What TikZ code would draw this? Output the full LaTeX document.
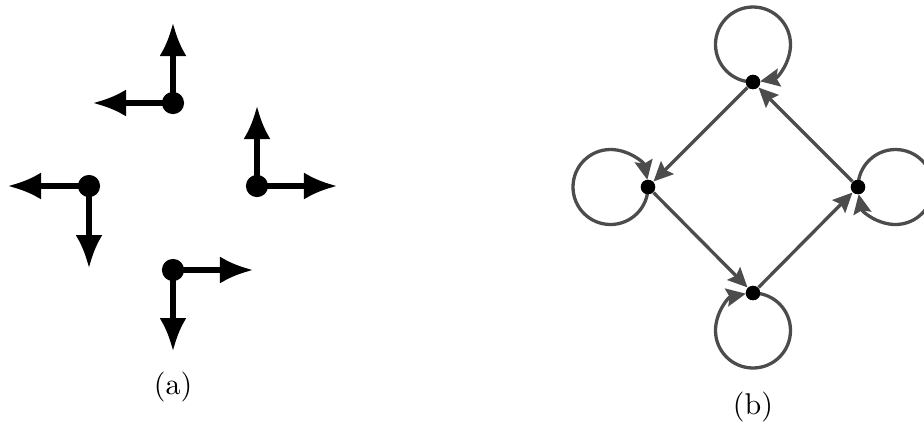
\documentclass[tikz,border=0pt]{standalone}
\usetikzlibrary{arrows.meta}
\begin{document}
\begin{tikzpicture}[x=0.3333pt,y=-0.3333pt,
  bigdot/.style={circle,fill=black,inner sep=0pt,minimum size=7.4pt},
  smalldot/.style={circle,fill=black,inner sep=0pt,minimum size=4.8pt},
  blackarrow/.style={line width=1.7pt,-{Latex[length=11pt,width=9pt]}},
  grayarrow/.style={draw=black!70,line width=1.1pt,-{Stealth[length=6.5pt,width=6pt,inset=1pt]}},
  lbl/.style={font=\normalsize}]
\useasboundingbox (0,0) rectangle (924,423);
% (a)
\node[bigdot] (d1) at (173,103) {};
\node[bigdot] (d2) at (89,186) {};
\node[bigdot] (d3) at (257,186) {};
\node[bigdot] (d4) at (173,270) {};
\coordinate (d1u) at (173,23);
\coordinate (d1l) at (93,103);
\coordinate (d2l) at (8,186);
\coordinate (d2d) at (89,268);
\coordinate (d3u) at (257,106);
\coordinate (d3r) at (337,186);
\coordinate (d4r) at (253,270);
\coordinate (d4d) at (173,351);
\draw[blackarrow] (d1.center) -- (d1u);
\draw[blackarrow] (d1.center) -- (d1l);
\draw[blackarrow] (d2.center) -- (d2l);
\draw[blackarrow] (d2.center) -- (d2d);
\draw[blackarrow] (d3.center) -- (d3u);
\draw[blackarrow] (d3.center) -- (d3r);
\draw[blackarrow] (d4.center) -- (d4r);
\draw[blackarrow] (d4.center) -- (d4d);
\node[lbl] (la) at (173,387) {(a)};
% (b)
\node[smalldot] (t) at (753,82) {};
\node[smalldot] (l) at (648,187) {};
\node[smalldot] (r) at (858,187) {};
\node[smalldot] (b) at (753,293) {};
\draw[grayarrow] (t) -- (l);
\draw[grayarrow] (l) -- (b);
\draw[grayarrow] (b) -- (r);
\draw[grayarrow] (r) -- (t);
\draw[grayarrow] (t.center) arc[start angle=90,end angle=439,radius=37.5];
\draw[grayarrow] (l.center) arc[start angle=0,end angle=349,radius=37.5];
\draw[grayarrow] (b.center) arc[start angle=270,end angle=619,radius=37.5];
\draw[grayarrow] (r.center) arc[start angle=180,end angle=529,radius=37.5];
\node[smalldot] at (t) {};
\node[smalldot] at (l) {};
\node[smalldot] at (r) {};
\node[smalldot] at (b) {};
\node[lbl] (lb) at (753,407) {(b)};
\end{tikzpicture}
\end{document}
